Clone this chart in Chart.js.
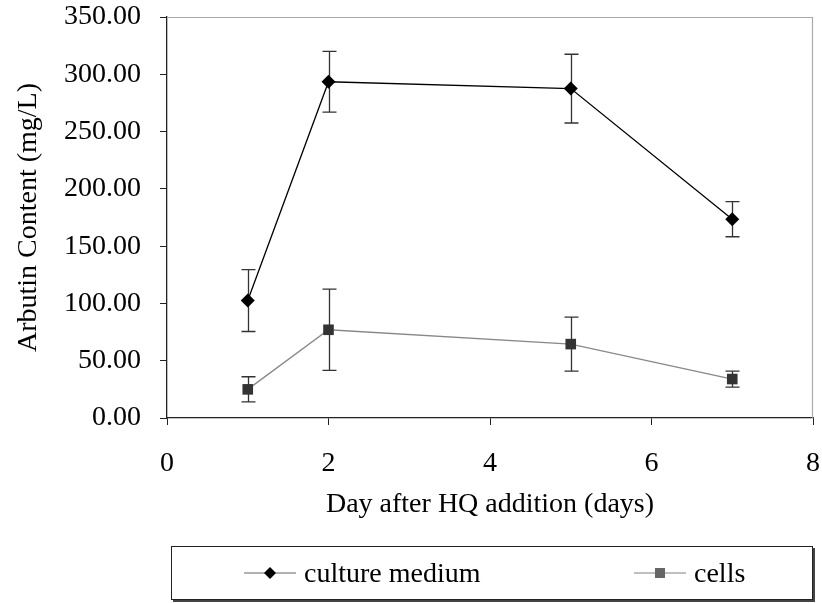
<!DOCTYPE html>
<html>
<head>
<meta charset="utf-8">
<title>Arbutin content after HQ addition</title>
<script src="https://cdn.jsdelivr.net/npm/chart.js@4/dist/chart.umd.min.js"></script>
<style>
  html, body { margin: 0; padding: 0; background: #fff; }
  #wrap { position: relative; width: 822px; height: 603px; }
  #chart { position: absolute; left: 0; top: 0; }
  #legend {
    position: absolute; left: 171px; top: 546px; width: 640px; height: 52px;
    border: 1.5px solid #222; box-shadow: 2px 2px 0 #444; background: #fff;
    font-family: "Liberation Serif", "Times New Roman", serif; font-size: 28px; color: #000;
  }
  .item { position: absolute; top: 0; height: 52px; display: flex; align-items: center; }
  .item svg { display: block; margin-right: 8px; }
</style>
</head>
<body>
<div id="wrap">
  <canvas id="chart" width="822" height="603"></canvas>
  <div id="legend">
    <div class="item" style="left:72px">
      <svg width="52" height="16" viewBox="0 0 52 16">
        <line x1="0" y1="8" x2="52" y2="8" stroke="#999" stroke-width="1.5"/>
        <polygon points="26,2 32,8 26,14 20,8" fill="#000"/>
      </svg>
      <span>culture medium</span>
    </div>
    <div class="item" style="left:462px">
      <svg width="52" height="16" viewBox="0 0 52 16">
        <line x1="0" y1="8" x2="52" y2="8" stroke="#aaa" stroke-width="1.5"/>
        <rect x="21" y="3" width="10" height="10" fill="#666"/>
      </svg>
      <span>cells</span>
    </div>
  </div>
</div>
<script>
// Sampling days after hydroquinone (HQ) was added
const days = [1, 2, 5, 7];

// Arbutin released into the culture medium (mg/L) and its standard deviation
const cultureMedium = [102.5, 293.5, 287.5, 173.5];
const cultureMediumSd = [27, 26.5, 30, 15.3];

// Arbutin retained in the cells (mg/L) and its standard deviation
const cells = [25, 77, 64.5, 34];
const cellsSd = [11, 35.5, 23.5, 7];

// Axis ranges and tick spacing
const xTicks = [0, 2, 4, 6, 8];
const yTicks = [0, 50, 100, 150, 200, 250, 300, 350];

const serif = '"Liberation Serif", "Times New Roman", serif';

function toPoints(xs, ys) {
  return xs.map((x, i) => ({ x: x, y: ys[i] }));
}

// Vertical error bars with end caps, drawn under the lines and markers
const errorBars = {
  id: 'errorBars',
  beforeDatasetsDraw(chart) {
    const { ctx, scales: { x, y } } = chart;
    const sets = [
      { values: cultureMedium, sd: cultureMediumSd },
      { values: cells, sd: cellsSd }
    ];
    const cap = 7;
    ctx.save();
    ctx.strokeStyle = '#333';
    ctx.lineWidth = 1.3;
    sets.forEach(set => {
      days.forEach((d, i) => {
        const px = Math.round(x.getPixelForValue(d)) + 0.5;
        const top = y.getPixelForValue(set.values[i] + set.sd[i]);
        const bottom = y.getPixelForValue(set.values[i] - set.sd[i]);
        ctx.beginPath();
        ctx.moveTo(px, top);
        ctx.lineTo(px, bottom);
        ctx.moveTo(px - cap, top);
        ctx.lineTo(px + cap, top);
        ctx.moveTo(px - cap, bottom);
        ctx.lineTo(px + cap, bottom);
        ctx.stroke();
      });
    });
    ctx.restore();
  }
};

// Light grey frame on the top and right sides of the plot area
const plotFrame = {
  id: 'plotFrame',
  beforeDatasetsDraw(chart) {
    const { ctx, chartArea: a } = chart;
    ctx.save();
    ctx.strokeStyle = '#aaa';
    ctx.lineWidth = 1.2;
    ctx.beginPath();
    ctx.moveTo(a.left, a.top + 0.5);
    ctx.lineTo(a.right - 0.5, a.top + 0.5);
    ctx.lineTo(a.right - 0.5, a.bottom);
    ctx.stroke();
    ctx.restore();
  }
};

new Chart(document.getElementById('chart'), {
  type: 'line',
  data: {
    datasets: [
      {
        label: 'culture medium',
        data: toPoints(days, cultureMedium),
        borderColor: '#000',
        borderWidth: 1.3,
        pointStyle: 'rectRot',
        pointRadius: 7,
        pointBackgroundColor: '#000',
        pointBorderColor: '#000',
        pointBorderWidth: 0,
        tension: 0
      },
      {
        label: 'cells',
        data: toPoints(days, cells),
        borderColor: '#888',
        borderWidth: 1.3,
        pointStyle: 'rect',
        pointRadius: 7.5,
        pointBackgroundColor: '#333',
        pointBorderColor: '#333',
        pointBorderWidth: 0,
        tension: 0
      }
    ]
  },
  options: {
    responsive: false,
    animation: false,
    layout: { padding: { left: 0, right: 9, top: 17, bottom: 82 } },
    plugins: {
      legend: { display: false },
      tooltip: { enabled: false }
    },
    scales: {
      x: {
        type: 'linear',
        min: xTicks[0],
        max: xTicks[xTicks.length - 1],
        afterBuildTicks(scale) { scale.ticks = xTicks.map(v => ({ value: v })); },
        afterFit(scale) {
          scale.height = 103;
          scale.paddingLeft = 0;
          scale.paddingRight = 0;
        },
        ticks: {
          padding: 22,
          color: '#000',
          font: { family: serif, size: 28 },
          callback: v => String(v)
        },
        grid: { drawOnChartArea: false, drawTicks: true, tickLength: 7, color: '#222', lineWidth: 1 },
        border: { display: true, color: '#222', width: 1.3 },
        title: {
          display: true,
          text: 'Day after HQ addition (days)',
          color: '#000',
          font: { family: serif, size: 28 },
          padding: { top: 0, bottom: 0 }
        }
      },
      y: {
        min: yTicks[0],
        max: yTicks[yTicks.length - 1],
        afterBuildTicks(scale) { scale.ticks = yTicks.map(v => ({ value: v })); },
        afterFit(scale) {
          scale.width = 167;
          scale.paddingTop = 0;
          scale.paddingBottom = 0;
        },
        ticks: {
          padding: 19,
          color: '#000',
          font: { family: serif, size: 28 },
          callback: v => Number(v).toFixed(2)
        },
        grid: { drawOnChartArea: false, drawTicks: true, tickLength: 7, color: '#222', lineWidth: 1 },
        border: { display: true, color: '#222', width: 1.3 },
        title: {
          display: true,
          text: 'Arbutin Content (mg/L)',
          color: '#000',
          font: { family: serif, size: 28 },
          padding: { top: 12, bottom: 0 }
        }
      }
    }
  },
  plugins: [plotFrame, errorBars]
});
</script>
</body>
</html>
